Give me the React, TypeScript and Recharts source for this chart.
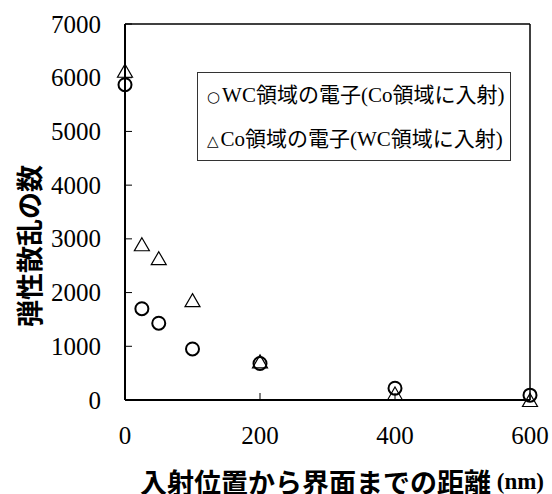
import React from "react"
import {
  ScatterChart,
  Scatter,
  XAxis,
  YAxis,
  ReferenceLine,
  Legend,
  Label,
} from "recharts"

// distance from interface (nm)
const distances = [0, 25, 50, 100, 200, 400, 600]
// elastic scattering counts
const wcCounts = [5870, 1700, 1430, 950, 680, 220, 90]
const coCounts = [6130, 2900, 2640, 1860, 720, 120, 0]

const xTicks = [0, 200, 400, 600]
const yTicks = [0, 1000, 2000, 3000, 4000, 5000, 6000, 7000]

const wcName = "WC領域の電子(Co領域に入射)"
const coName = "Co領域の電子(WC領域に入射)"

const wcData = distances.map((d, i) => ({ x: d, y: wcCounts[i] }))
const coData = distances.map((d, i) => ({ x: d, y: coCounts[i] }))

const serif = "Liberation Serif, Noto Sans CJK JP, serif"

const CircleMark = (props: any) => {
  const { cx, cy } = props
  return <circle cx={cx} cy={cy} r={6.5} fill="none" stroke="#000" strokeWidth={2} />
}

const TriangleMark = (props: any) => {
  const { cx, cy } = props
  return (
    <path
      d={`M${cx},${cy - 6.5} L${cx + 7.5},${cy + 6.5} L${cx - 7.5},${cy + 6.5} Z`}
      fill="none"
      stroke="#000"
      strokeWidth={1.2}
    />
  )
}

const XTick = (props: any) => {
  const { x, y, payload } = props
  return (
    <text x={x} y={y} textAnchor="middle" dominantBaseline="central"
      fontFamily="Liberation Serif" fontSize={25} fill="#000">
      {payload.value}
    </text>
  )
}

const YTick = (props: any) => {
  const { x, y, payload } = props
  return (
    <text x={x} y={y} textAnchor="end" dominantBaseline="central"
      fontFamily="Liberation Serif" fontSize={25} fill="#000">
      {payload.value}
    </text>
  )
}

const symStyle = { fontFamily: "DejaVu Sans", fontSize: 15, marginRight: 2 }

const renderLegend = () => (
  <div
    style={{
      boxSizing: "border-box",
      width: 314,
      height: 89,
      border: "1px solid #333",
      background: "#fff",
      fontFamily: serif,
      fontSize: 21,
      color: "#000",
      padding: "4px 0 0 9px",
      whiteSpace: "nowrap",
    }}
  >
    <div style={{ height: 40, lineHeight: "36px" }}>
      <span style={symStyle}>○</span>{wcName}
    </div>
    <div style={{ height: 40, lineHeight: "44px" }}>
      <span style={symStyle}>△</span>{coName}
    </div>
  </div>
)

export default function App() {
  return (
    <div style={{ position: "absolute", left: 0, top: 0, background: "#fff" }}>
      <ScatterChart
        width={552}
        height={494}
        margin={{ top: 24, right: 22, bottom: 34, left: 25 }}
      >
        <XAxis
          type="number"
          dataKey="x"
          domain={[0, 600]}
          ticks={xTicks}
          height={60}
          axisLine={{ stroke: "#000", strokeWidth: 2 }}
          tickLine={{ stroke: "#000", strokeWidth: 1 }}
          tickSize={-7}
          tickMargin={42}
          tick={XTick}
        >
          <Label
            content={() => (
              <text
                x={140}
                y={481}
                textAnchor="start"
                dominantBaseline="central"
                fontFamily="Noto Sans CJK JP"
                fontWeight="bold"
                fontSize={27}
                fill="#000"
              >
                入射位置から界面までの距離
                <tspan fontFamily="Liberation Serif" fontSize={23}> (nm)</tspan>
              </text>
            )}
          />
        </XAxis>
        <YAxis
          type="number"
          dataKey="y"
          domain={[0, 7000]}
          ticks={yTicks}
          width={100}
          axisLine={{ stroke: "#000", strokeWidth: 2 }}
          tickLine={{ stroke: "#000", strokeWidth: 1 }}
          tickSize={-7}
          tickMargin={31}
          tick={YTick}
        >
          <Label
            content={() => (
              <text
                x={28}
                y={246}
                transform="rotate(-90 28 246)"
                textAnchor="middle"
                dominantBaseline="central"
                fontFamily="Noto Sans CJK JP"
                fontWeight="bold"
                fontSize={27}
                fill="#000"
              >
                弾性散乱の数
              </text>
            )}
          />
        </YAxis>
        <ReferenceLine y={7000} stroke="#000" strokeWidth={1.5} />
        <ReferenceLine x={600} stroke="#000" strokeWidth={1.5} />
        <Legend
          layout="vertical"
          align="center"
          verticalAlign="middle"
          wrapperStyle={{ position: "absolute", left: 197, top: 72, width: 314, height: 89 }}
          content={renderLegend}
        />
        <Scatter
          name={wcName}
          data={wcData}
          shape={CircleMark}
          isAnimationActive={false}
        />
        <Scatter
          name={coName}
          data={coData}
          shape={TriangleMark}
          isAnimationActive={false}
        />
      </ScatterChart>
    </div>
  )
}
